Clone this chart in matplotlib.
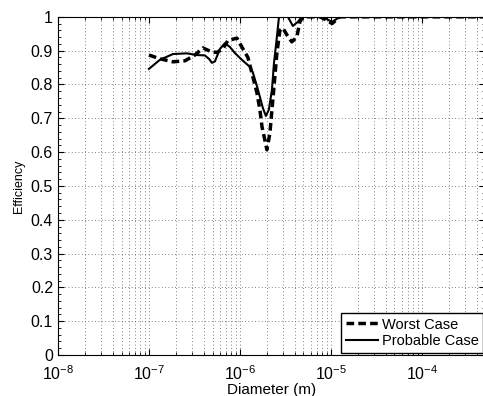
import numpy as np
import matplotlib
matplotlib.use('Agg')
import matplotlib.pyplot as plt
from matplotlib.ticker import MultipleLocator, LogLocator, NullFormatter

plt.rcParams['font.family'] = ['Liberation Sans', 'DejaVu Sans']

# probable case (solid)
d_prob = [1.0e-7, 1.32e-7, 1.84e-7, 2.62e-7, 3.37e-7, 4.12e-7, 4.6e-7, 4.92e-7, 5.31e-7,
          6.03e-7, 6.84e-7, 7.76e-7, 8.81e-7, 1.05e-6, 1.135e-6, 1.29e-6, 1.39e-6,
          1.54e-6, 1.66e-6, 1.79e-6, 1.93e-6, 2.08e-6, 2.25e-6, 2.37e-6, 2.55e-6,
          2.69e-6, 3.37e-6, 3.82e-6, 4.33e-6, 4.8e-6, 7.6e-6, 9.04e-6, 1.03e-5,
          1.26e-5, 5e-4]
eff_prob = [0.846, 0.873, 0.89, 0.892, 0.887, 0.886, 0.875, 0.864, 0.868,
            0.905, 0.922, 0.911, 0.893, 0.873, 0.865, 0.852, 0.835,
            0.795, 0.763, 0.73, 0.707, 0.725, 0.784, 0.864, 0.94,
            1.0, 1.0, 0.973, 0.985, 1.0, 1.0, 0.993, 0.985,
            1.0, 1.0]

# worst case (dashed)
d_worst = [1.0e-7, 1.32e-7, 1.84e-7, 2.49e-7, 3.2e-7, 3.92e-7, 4.92e-7, 5.6e-7, 6.5e-7,
           7.38e-7, 9.27e-7, 1.05e-6, 1.225e-6, 1.39e-6, 1.54e-6, 1.66e-6, 1.75e-6,
           1.88e-6, 1.98e-6, 2.14e-6, 2.25e-6, 2.37e-6, 2.55e-6, 2.75e-6, 2.97e-6,
           3.28e-6, 3.72e-6, 4.22e-6, 4.56e-6, 4.92e-6, 7.6e-6, 9.04e-6, 1.03e-5,
           1.26e-5, 5e-4]
eff_worst = [0.887, 0.876, 0.867, 0.87, 0.887, 0.908, 0.896, 0.895, 0.905,
             0.93, 0.937, 0.911, 0.88, 0.822, 0.775, 0.725, 0.675,
             0.636, 0.607, 0.657, 0.725, 0.793, 0.893, 0.96, 0.967,
             0.947, 0.926, 0.94, 0.985, 1.0, 1.0, 0.99, 0.98,
             1.0, 1.0]

ytick_vals = np.arange(0, 1.01, 0.1)
ytick_labels = ['0', '0.1', '0.2', '0.3', '0.4', '0.5', '0.6', '0.7', '0.8', '0.9', '1']

fig = plt.figure(figsize=(4.83, 3.96), dpi=100, facecolor='w')
ax = fig.add_axes([0.120, 0.1035, 0.885, 0.854])

ax.semilogx(d_worst, eff_worst, 'k--', lw=2.5, dashes=(2.2, 1.2), label='Worst Case')
ax.semilogx(d_prob, eff_prob, 'k-', lw=1.5, label='Probable Case')

ax.set_xlim(1e-8, 5e-4)
ax.set_ylim(0, 1)
ax.set_yticks(ytick_vals)
ax.set_yticklabels(ytick_labels)
ax.yaxis.set_minor_locator(MultipleLocator(0.02))
ax.xaxis.set_major_locator(LogLocator(base=10, numticks=10))
ax.xaxis.set_minor_locator(LogLocator(base=10, subs=np.arange(2, 10), numticks=20))
ax.xaxis.set_minor_formatter(NullFormatter())

ax.tick_params(which='both', direction='in', top=True, right=True, labelsize=11.5)
ax.tick_params(which='major', length=4)
ax.tick_params(which='minor', length=2)
ax.tick_params(axis='x', pad=7)

ax.grid(True, which='major', axis='both', color='0.35', ls=(0, (1, 3)), lw=0.6)
ax.grid(True, which='minor', axis='x', color='0.35', ls=(0, (1, 3)), lw=0.6)

ax.set_xlabel('Diameter (m)', fontsize=11, labelpad=0)
ax.set_ylabel('Efficiency', fontsize=9)

leg = ax.legend(loc='lower right', fontsize=10.5, fancybox=False, framealpha=1,
                edgecolor='k', handlelength=2.2, borderaxespad=0.15,
                borderpad=0.3, labelspacing=0.2, handletextpad=0.3)
leg.get_frame().set_linewidth(1.0)

plt.savefig('out.png', dpi=100)
